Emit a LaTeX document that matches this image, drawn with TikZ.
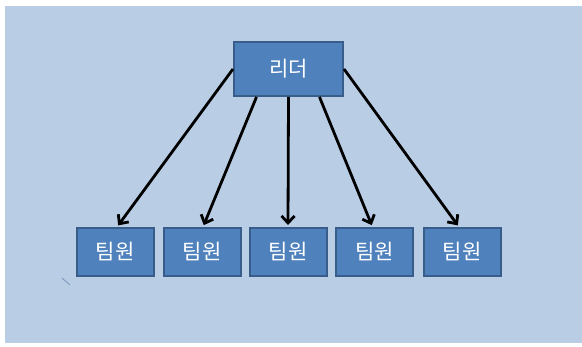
\documentclass[tikz,border=0pt]{standalone}
\usepackage{fontspec}
\newfontfamily\kr{Noto Sans CJK KR}
\usetikzlibrary{arrows.meta,calc}
\definecolor{bgblue}{HTML}{B9CDE5}
\definecolor{boxfill}{HTML}{4F81BD}
\definecolor{boxline}{HTML}{385D8A}
\definecolor{strayc}{HTML}{6F8FB5}
\tikzset{
  leaderbox/.style={draw=boxline, fill=boxfill, line width=2pt, minimum width=109pt, minimum height=54pt, inner sep=0pt, text=white, font=\kr\fontsize{21}{24}\selectfont},
  memberbox/.style={draw=boxline, fill=boxfill, line width=2pt, minimum width=77pt, minimum height=48pt, inner sep=0pt, text=white, font=\kr\fontsize{21}{24}\selectfont},
  link/.style={line width=2.8pt, black, -{Straight Barb[length=7pt,width=13pt,line width=2.8pt]}, shorten >=2pt}
}
\begin{document}
\begin{tikzpicture}[x=1pt,y=-1pt]
\useasboundingbox (0,0) rectangle (582,347);
\fill[white] (0,0) rectangle (582,347);
\fill[bgblue] (5,6) rectangle (582,343);
\draw[strayc, line width=0.7pt] (62,278) -- (70,285);
\node[leaderbox] (leader) at (288.5,69) {리더};
\node[memberbox] (m1) at (115,252) {팀원};
\node[memberbox] (m2) at (202,252) {팀원};
\node[memberbox] (m3) at (288,252) {팀원};
\node[memberbox] (m4) at (374.5,252) {팀원};
\node[memberbox] (m5) at (462,252) {팀원};
\draw[link] (leader.west) -- ($(m1.north)+(2,0)$);
\draw[link] ($(leader.south)+(-32,0)$) -- ($(m2.north)+(1,0)$);
\draw[link] (leader.south) -- (m3.north);
\draw[link] ($(leader.south)+(31,0)$) -- ($(m4.north)+(-2,0)$);
\draw[link] (leader.east) -- ($(m5.north)+(-3,0)$);
\end{tikzpicture}
\end{document}
